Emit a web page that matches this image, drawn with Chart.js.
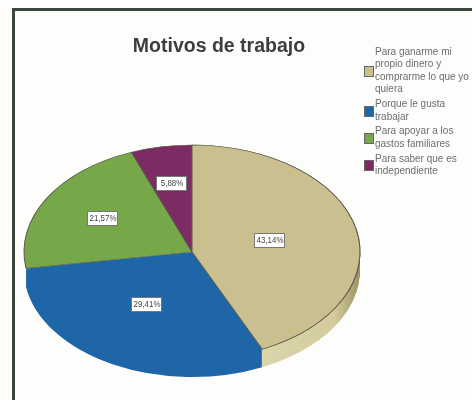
<!DOCTYPE html>
<html>
<head>
<meta charset="utf-8">
<style>
html, body { margin: 0; padding: 0; background: #fdfdfc; }
#frame { position: absolute; left: 12px; top: 8px; width: 460px; height: 392px; border-left: 3px solid #3c463f; border-top: 3px solid #3c463f; box-sizing: border-box; }
canvas { position: absolute; left: 0; top: 0; }
#legend { position: absolute; left: 364px; top: 46px; width: 108px; font: 10px/12.4px "Liberation Sans", sans-serif; color: #6a6f6c; }
.item { position: relative; padding-left: 11px; margin-bottom: 2.5px; white-space: nowrap; }
.box { position: absolute; left: 0; top: 50%; width: 8px; height: 9px; margin-top: -5px; border: 1px solid #666; box-sizing: content-box; }
</style>
</head>
<body>
<div id="frame"></div>
<canvas id="motivos" width="472" height="400"></canvas>
<div id="legend"></div>
<script src="https://cdn.jsdelivr.net/npm/chart.js@4/dist/chart.umd.js"></script>
<script>
const categories = [
    ['Para ganarme mi', 'propio dinero y', 'comprarme lo que yo', 'quiera'],
    ['Porque le gusta', 'trabajar'],
    ['Para apoyar a los', 'gastos familiares'],
    ['Para saber que es', 'independiente']
];
const values = [43.14, 29.41, 21.57, 5.88];
const colors = ['#c9bf8f', '#1f66a8', '#76a84a', '#7c2c63'];
const borderWidths = [1, 0, 1, 1];
const labelRadius = [80, 95, 103, 108];

// centre and flattening of the tilted pie
const centerX = 192, centerY = 252, radius = 168, radiusY = 107, depth = 18;

function tilt(chart, ctx, offset) {
    const arc = chart.getDatasetMeta(0).data[0];
    const scale = radius / arc.outerRadius;
    ctx.translate(centerX, centerY + offset);
    ctx.scale(scale, scale * radiusY / radius);
    ctx.translate(-arc.x, -arc.y);
}

const tiltedPie = {
    id: 'tiltedPie',
    afterLayout(chart) {
        chart.titleBlock.left -= 17;
        chart.titleBlock.right -= 17;
    },
    beforeDatasetsDraw(chart) {
        const ctx = chart.ctx;
        const arcs = chart.getDatasetMeta(0).data;
        const first = arcs[0];
        // tan wall darkens towards the right edge
        const wall = ctx.createLinearGradient(first.x + first.outerRadius * 0.4, 0, first.x + first.outerRadius, 0);
        wall.addColorStop(0, '#dcd6ac');
        wall.addColorStop(0.75, '#d3cb9c');
        wall.addColorStop(1, '#9c9264');
        // only tan and blue show a side wall
        for (let d = depth; d > 0; d--) {
            [0, 1].forEach(i => {
                const arc = arcs[i];
                const opts = arc.options;
                const fill = i === 0 ? wall : colors[i];
                arc.options = Object.assign({}, opts, { backgroundColor: fill, borderWidth: 0 });
                ctx.save();
                tilt(chart, ctx, d);
                arc.draw(ctx);
                ctx.restore();
                arc.options = opts;
            });
        }
        ctx.save();
        tilt(chart, ctx, 0);
    },
    afterDatasetsDraw(chart) {
        const ctx = chart.ctx;
        const arcs = chart.getDatasetMeta(0).data;
        // tan again so its edge stays over the blue slice
        arcs[0].draw(ctx);
        ctx.restore();
        // boxed percentage labels
        ctx.font = '9px "Liberation Sans", sans-serif';
        ctx.textAlign = 'center';
        ctx.textBaseline = 'middle';
        arcs.forEach((arc, i) => {
            const mid = (arc.startAngle + arc.endAngle) / 2;
            const x = Math.round(centerX + Math.cos(mid) * labelRadius[i]);
            const y = Math.round(centerY + Math.sin(mid) * labelRadius[i] * radiusY / radius);
            const text = values[i].toFixed(2).replace('.', ',') + '%';
            ctx.fillStyle = '#fff';
            ctx.strokeStyle = '#777';
            ctx.lineWidth = 1;
            ctx.fillRect(x - 15, y - 7, 30, 14);
            ctx.strokeRect(x - 15.5, y - 7.5, 30, 14);
            ctx.save();
            ctx.translate(x, y);
            ctx.scale(0.88, 1);
            ctx.fillStyle = '#444';
            ctx.fillText(text, 0, 0);
            ctx.restore();
        });
    }
};

new Chart(document.getElementById('motivos'), {
    type: 'pie',
    data: {
        labels: categories,
        datasets: [{
            data: values,
            backgroundColor: colors,
            borderColor: '#5c5b4c',
            borderWidth: borderWidths
        }]
    },
    options: {
        responsive: false,
        animation: false,
        plugins: {
            tooltip: { enabled: false },
            legend: { display: false },
            title: {
                display: true,
                text: 'Motivos de trabajo',
                color: '#3a3f3c',
                font: { family: 'Liberation Sans', size: 19.5, weight: 'bold' },
                padding: { top: 35, bottom: 8 }
            }
        }
    },
    plugins: [tiltedPie]
});

// legend as plain html, built from the same arrays
const legend = document.getElementById('legend');
categories.forEach((lines, i) => {
    const item = document.createElement('div');
    item.className = 'item';
    const box = document.createElement('span');
    box.className = 'box';
    box.style.background = colors[i];
    item.appendChild(box);
    lines.forEach(line => {
        const row = document.createElement('div');
        row.textContent = line;
        item.appendChild(row);
    });
    legend.appendChild(item);
});
</script>
</body>
</html>
